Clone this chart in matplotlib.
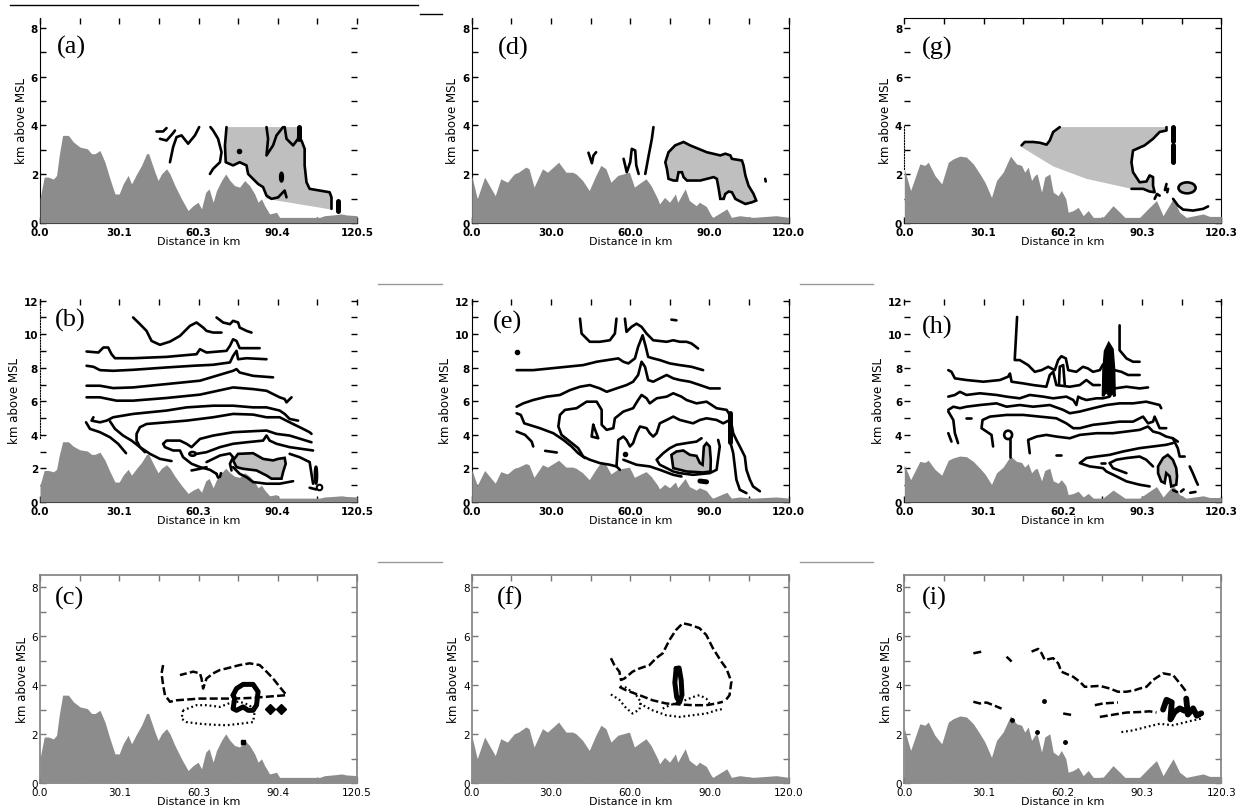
#!/usr/bin/env python3
"""Radar cross sections over terrain, panels (a)-(i)."""

import matplotlib

matplotlib.use("Agg")
import matplotlib.pyplot as plt
from matplotlib.lines import Line2D
from matplotlib.patches import Ellipse, Polygon
from matplotlib.transforms import ScaledTranslation

W, H = 1241, 812

# ---- terrain profiles (km along section, km MSL), one per column ----
terrain1_x = [0.0, 1.6, 3.2, 5.1, 6.3, 7.3, 8.6, 10.8, 12.7, 15.2, 18.0, 19.6, 20.9, 22.8, 24.7,
              26.6, 28.5, 30.1, 31.6, 33.5, 34.8, 36.7, 38.6, 40.5, 41.3, 42.4, 43.7, 44.9, 46.2,
              48.1, 49.4, 51.3, 53.8, 56.3, 58.2, 60.1, 61.4, 63.0, 64.3, 65.8, 67.1, 69.0, 70.6,
              72.2, 74.0, 75.9, 77.8, 79.7, 81.6, 82.9, 84.2, 85.4, 87.3, 89.9, 91.1, 106.3,
              108.2, 111.4, 114.6, 116.5, 120.5]
terrain1_z = [1.0, 1.88, 1.88, 1.8, 1.95, 2.77, 3.59, 3.59, 3.32, 3.11, 3.04, 2.84, 2.84, 2.97, 2.49,
              1.81, 1.19, 1.19, 1.6, 1.95, 1.6, 2.0, 2.36, 2.84, 2.84, 2.49, 2.08, 1.74, 2.01,
              2.22, 2.01, 1.53, 0.99, 0.51, 0.71, 0.85, 0.58, 1.26, 1.4, 0.85, 1.33, 1.74, 2.01,
              1.74, 1.53, 1.47, 1.74, 1.53, 1.19, 0.85, 0.99, 0.71, 0.37, 0.44, 0.23, 0.23,
              0.3, 0.33, 0.37, 0.33, 0.3]
terrain2_x = [0.0, 2.1, 4.9, 8.9, 11.0, 13.5, 16.1, 17.7, 20.5, 21.7, 23.6, 26.8, 28.7, 32.9, 35.7,
              38.2, 39.5, 42.0, 44.5, 47.0, 48.9, 50.8, 52.7, 55.3, 59.7, 61.6, 64.1, 66.0, 67.9,
              70.4, 71.1, 73.0, 74.9, 77.1, 78.0, 80.8, 82.4, 85.0, 86.2, 88.8, 90.7, 91.3, 96.6,
              98.3, 101.4, 106.5, 115.3, 120.0]
terrain2_z = [1.95, 0.99, 1.88, 1.12, 1.81, 1.67, 2.01, 2.08, 2.29, 2.22, 1.47, 2.22, 2.08, 2.49, 2.08,
              2.08, 2.01, 1.74, 1.33, 1.95, 2.36, 2.22, 1.67, 1.95, 2.08, 1.47, 1.67, 1.81, 1.53,
              0.99, 0.78, 1.05, 0.85, 1.19, 0.85, 1.4, 0.92, 0.71, 0.85, 0.68, 0.3, 0.23, 0.58,
              0.23, 0.3, 0.23, 0.3, 0.23]
terrain3_x = [0.0, 2.4, 5.9, 7.8, 9.1, 11.6, 14.2, 16.7, 18.6, 21.1, 23.6, 26.2, 28.7, 30.6, 33.1,
              35.0, 37.5, 40.3, 42.6, 44.5, 45.7, 47.0, 48.3, 49.5, 50.4, 52.1, 53.3, 55.2, 56.5,
              58.4, 59.6, 61.3, 62.2, 64.1, 66.0, 67.9, 69.8, 71.7, 75.4, 79.2, 81.8, 83.7, 89.3,
              92.5, 95.7, 98.2, 102.0, 104.5, 107.0, 113.4, 115.9, 120.3]
terrain3_z = [2.22, 1.33, 2.42, 2.36, 2.49, 1.95, 1.6, 2.49, 2.63, 2.74, 2.7, 2.42, 2.01, 1.67, 1.05,
              1.74, 2.08, 2.74, 2.42, 2.36, 2.08, 2.29, 1.74, 1.95, 2.01, 1.26, 1.88, 2.01, 1.26,
              1.12, 1.33, 0.99, 0.44, 0.51, 0.64, 0.3, 0.51, 0.23, 0.23, 0.71, 0.44, 0.23, 0.23,
              0.58, 0.92, 0.3, 0.99, 0.44, 0.23, 0.37, 0.27, 0.27]

col_xmax = [120.5, 120.0, 120.3]
col_xlabels = [
    ["0.0", "30.1", "60.3", "90.4", "120.5"],
    ["0.0", "30.0", "60.0", "90.0", "120.0"],
    ["0.0", "30.1", "60.2", "90.3", "120.3"],
]
row_ytop = [8, 12, 8]

# ---- (a) ----
a_lines = [
    [(44.3, 3.75), (46.8, 3.75), (48.1, 3.89)],
    [(45.6, 3.45), (48.1, 3.38), (50.4, 3.66), (51.3, 3.79)],
    [(49.4, 2.49), (50.6, 3.11), (51.9, 3.52), (53.8, 3.59), (56.3, 3.25), (58.9, 3.59), (60.5, 3.93)],
    [(64.6, 2.01), (65.8, 2.22), (68.4, 2.49), (69.0, 2.9), (67.7, 3.45), (65.8, 3.79), (64.8, 3.93)],
    [(70.9, 3.93), (70.3, 3.18), (70.6, 2.49), (73.4, 2.36), (75.9, 2.49), (78.5, 2.36), (79.1, 2.01),
     (81.6, 1.74), (82.9, 1.6), (84.8, 1.47), (86.1, 1.12), (88.0, 0.99), (90.5, 1.05), (93.0, 1.33),
     (93.7, 1.05)],
    [(86.1, 3.93), (86.7, 3.45), (86.1, 2.77), (88.6, 3.18), (89.9, 3.59), (92.4, 3.93)],
    [(93.0, 3.93), (93.7, 3.45), (96.2, 3.18), (98.1, 3.45), (98.5, 3.93)],
    [(98.5, 3.45), (99.4, 3.38), (100.6, 3.04), (100.6, 2.36), (101.3, 1.67), (102.5, 1.4),
     (106.3, 1.33), (110.1, 1.26), (110.8, 1.05), (110.8, 0.58)],
]
a_thick = [[(98.5, 3.93), (98.5, 3.45)], [(113.3, 0.92), (113.3, 0.51)]]
a_shade = [[(70.9, 3.93), (98.5, 3.93), (99.4, 3.38), (100.6, 3.04), (100.6, 2.36), (101.3, 1.67),
            (102.5, 1.4), (106.3, 1.33), (110.1, 1.26), (110.8, 1.05), (110.8, 0.55), (86.1, 0.99),
            (84.8, 1.47), (82.9, 1.6), (81.6, 1.74), (79.1, 2.01), (78.5, 2.36), (75.9, 2.49),
            (73.4, 2.36), (70.6, 2.49), (70.3, 3.18)]]
a_loops = [(91.8, 1.88, 1.0, 0.35, False)]
a_dots = [(75.7, 2.97)]

# ---- (d) ----
d_lines = [
    [(44.2, 2.88), (45.5, 2.45), (46.1, 2.77), (47.1, 2.9)],
    [(57.5, 2.63), (58.7, 2.08), (60.0, 2.49), (60.6, 3.04), (61.9, 2.97), (62.3, 2.36), (63.2, 2.01)],
    [(65.7, 2.01), (67.0, 2.77), (68.2, 3.45), (68.8, 3.93)],
    [(111.1, 1.81), (111.3, 1.7)],
]
d_cells = [[(73.3, 2.49), (74.5, 2.9), (77.0, 3.18), (80.2, 3.32), (82.7, 3.18), (89.0, 2.9),
            (94.1, 2.77), (96.0, 2.84), (97.9, 2.77), (98.5, 2.63), (102.3, 2.56), (102.9, 2.36),
            (103.6, 1.95), (104.8, 1.53), (106.7, 1.19), (107.7, 0.92), (106.1, 0.85), (103.6, 0.78),
            (101.0, 0.92), (99.8, 0.99), (98.5, 1.26), (97.3, 1.29), (96.0, 1.19), (95.4, 0.99),
            (94.1, 0.99), (93.5, 1.4), (92.8, 1.81), (91.6, 1.88), (86.5, 1.74), (81.5, 1.74),
            (80.2, 1.88), (79.6, 2.08), (78.3, 2.08), (77.7, 1.74), (76.4, 1.74), (74.5, 1.81),
            (73.9, 2.22)]]

# ---- (g) ----
g_lines = [
    [(44.5, 3.18), (45.7, 3.32), (48.9, 3.32), (51.4, 3.29), (54.0, 3.21), (55.2, 3.38), (56.5, 3.73),
     (59.0, 3.93)],
    [(99.5, 3.93), (99.5, 3.79), (96.9, 3.73), (94.4, 3.45), (91.2, 3.18), (86.8, 2.97), (86.2, 2.49),
     (86.8, 2.08), (89.3, 1.67), (91.9, 1.7), (93.1, 1.95), (94.4, 1.88), (94.4, 1.53), (95.0, 1.26),
     (93.1, 1.29), (90.6, 1.4), (86.2, 1.4)],
    [(99.5, 1.6), (98.9, 1.35), (100.1, 1.4), (99.8, 1.26)],
    [(95.0, 0.99), (95.9, 1.19), (96.9, 1.12)],
    [(102.0, 0.99), (103.9, 0.71), (105.8, 0.55), (109.6, 0.51), (113.4, 0.58), (115.3, 0.68)],
]
g_thick = [[(102.0, 3.93), (102.0, 3.38)], [(102.0, 3.18), (102.0, 2.49)]]
g_shade = [[(44.5, 3.18), (45.7, 3.32), (48.9, 3.32), (51.4, 3.29), (54.0, 3.21), (55.2, 3.38),
            (56.5, 3.73), (59.0, 3.93), (99.5, 3.93), (99.5, 3.79), (96.9, 3.73), (94.4, 3.45),
            (91.2, 3.18), (86.8, 2.97), (86.2, 2.49), (86.8, 2.08), (89.3, 1.67), (91.9, 1.7),
            (93.1, 1.95), (94.4, 1.88), (94.4, 1.53), (95.0, 1.26), (93.1, 1.29), (90.6, 1.4),
            (86.2, 1.4), (69.1, 1.81), (56.5, 2.32), (44.5, 3.11)]]
g_loops = [(107.3, 1.44, 6.5, 0.45, True)]

# ---- (b) ----
b_lines = [
    [(35.4, 11.0), (38.0, 10.6), (40.5, 10.2), (42.4, 9.6), (45.6, 9.37), (49.4, 9.56), (53.2, 9.9),
     (57.0, 10.5), (59.5, 10.7), (62.0, 10.4), (63.3, 10.2), (65.8, 10.1), (69.0, 10.1)],
    [(67.1, 11.0), (69.6, 10.7), (72.2, 10.6), (73.4, 10.8), (75.3, 10.7), (75.9, 10.4), (78.5, 10.2),
     (80.4, 10.1)],
    [(17.7, 8.97), (22.2, 8.91), (24.1, 9.21), (25.9, 9.21), (27.2, 8.81), (28.5, 8.57), (35.4, 8.57),
     (48.1, 8.65), (59.5, 8.81), (60.8, 9.11), (63.3, 8.91), (70.9, 9.01), (72.2, 9.31), (73.4, 9.7),
     (74.7, 9.6), (75.9, 9.17), (83.5, 9.17)],
    [(17.7, 8.12), (20.3, 8.06), (22.8, 7.86), (27.8, 7.82), (35.4, 7.88), (48.1, 8.02), (58.2, 8.12),
     (65.8, 8.18), (72.2, 8.32), (73.4, 8.71), (74.7, 9.01), (75.3, 8.51), (78.5, 8.57), (86.1, 8.51)],
    [(17.7, 6.93), (22.8, 6.93), (27.8, 6.79), (35.4, 6.83), (48.1, 7.03), (60.8, 7.23), (73.4, 7.82),
     (74.7, 7.92), (75.9, 7.72), (81.0, 7.52), (88.6, 7.43)],
    [(17.7, 6.24), (22.8, 6.24), (29.1, 6.04), (35.4, 6.04), (48.1, 6.2), (60.8, 6.4), (73.4, 6.83),
     (81.0, 6.73), (86.1, 6.63), (91.1, 6.24), (93.0, 6.14), (93.7, 5.94), (95.6, 6.24)],
    [(20.3, 5.05), (19.6, 4.85), (22.8, 4.75), (25.3, 4.85), (27.8, 5.05), (35.4, 5.25), (48.1, 5.45),
     (55.7, 5.64), (65.8, 5.74), (73.4, 5.74), (81.0, 5.64), (86.1, 5.64), (91.1, 5.45), (93.0, 5.25),
     (94.9, 4.95), (98.1, 4.85)],
    [(26.6, 4.81), (28.5, 4.36), (31.6, 3.96), (34.8, 3.66), (38.0, 3.27), (39.9, 2.97)],
    [(17.5, 4.75), (19.0, 4.36), (22.8, 4.16), (26.6, 3.86), (29.7, 3.47), (32.7, 2.91)],
    [(50.0, 2.44), (45.6, 2.57), (41.8, 2.87), (38.0, 3.27), (36.7, 3.66), (36.7, 4.06), (38.0, 4.46),
     (40.5, 4.65), (48.1, 4.75), (55.7, 4.85), (65.8, 5.05), (73.4, 5.25), (81.0, 5.21), (86.1, 5.05),
     (91.1, 5.05), (96.2, 4.65), (98.7, 4.46), (102.5, 4.16), (103.2, 4.06)],
    [(67.1, 1.68), (64.6, 1.92), (60.8, 2.08), (57.6, 2.28), (54.4, 2.67), (53.2, 3.07), (50.6, 3.07),
     (47.5, 3.27), (46.8, 3.47), (48.1, 3.66), (53.2, 3.66), (55.7, 3.47), (57.6, 3.27), (60.8, 3.76),
     (65.8, 3.96), (73.4, 4.16), (81.0, 4.22), (86.1, 4.26), (89.9, 4.06), (94.9, 3.96), (103.2, 3.56)],
    [(59.5, 2.87), (63.3, 2.97), (68.4, 3.27), (73.4, 3.47), (78.5, 3.56), (84.8, 3.66), (86.1, 3.96),
     (87.3, 3.66), (89.9, 3.47), (94.9, 3.27), (103.8, 3.07)],
    [(63.3, 2.38), (65.8, 2.57), (68.4, 2.77), (72.2, 2.89), (73.4, 2.67), (72.2, 2.28), (72.8, 1.88)],
    [(73.4, 2.08), (75.9, 1.68), (78.5, 1.48), (81.0, 1.19), (86.1, 1.09), (91.1, 1.09), (96.2, 1.24)],
    [(94.9, 2.87), (98.7, 2.67), (102.5, 2.38), (103.2, 1.68), (103.8, 1.09)],
    [(57.6, 1.88), (60.8, 1.98), (63.3, 2.08)],
    [(67.1, 1.68), (67.7, 1.45)],
    [(68.4, 1.5), (68.8, 1.72)],
    [(102.5, 0.85), (105.0, 0.75)],
]
b_cells = [[(73.4, 2.48), (75.3, 2.87), (81.0, 2.91), (84.8, 2.57), (88.6, 2.48), (90.5, 2.57),
            (93.0, 2.63), (93.4, 2.28), (92.4, 1.78), (91.8, 1.39), (88.0, 1.39), (86.1, 1.58),
            (82.3, 1.88), (77.2, 1.98), (74.7, 2.08)]]
b_loops = [(58.0, 2.87, 2.4, 0.22, False), (104.9, 1.6, 0.8, 1.0, False)]
b_dots = [(106.2, 0.9)]

# ---- (e) ----
e_lines = [
    [(41.0, 10.93), (41.6, 10.04), (44.7, 9.55), (48.5, 9.55), (52.3, 9.64), (54.2, 10.04), (54.8, 10.93)],
    [(58.0, 10.93), (58.6, 10.14), (60.5, 10.44), (62.4, 10.63), (64.3, 10.44), (66.2, 10.04),
     (68.7, 9.64), (73.8, 9.55), (76.3, 9.64), (78.8, 9.55), (81.3, 9.55), (83.2, 9.45), (85.7, 9.15)],
    [(75.6, 10.87), (77.5, 10.83)],
    [(17.0, 7.86), (23.3, 7.86), (29.6, 7.96), (35.9, 8.06), (42.2, 8.16), (47.3, 8.36), (55.5, 8.56),
     (57.4, 8.36), (59.3, 8.26), (61.8, 8.56), (63.0, 9.25), (64.7, 9.94), (65.9, 9.25), (66.8, 8.65),
     (68.7, 8.56), (71.2, 8.46), (75.0, 8.26), (78.8, 8.16), (83.2, 8.06), (87.6, 7.86)],
    [(17.0, 5.68), (19.5, 5.88), (23.3, 6.08), (28.4, 6.28), (33.4, 6.38), (37.2, 6.67), (41.0, 6.87),
     (44.7, 6.97), (48.5, 6.77), (51.1, 6.57), (54.8, 6.77), (58.6, 6.97), (61.1, 7.17), (63.0, 7.57),
     (64.3, 8.36), (65.6, 8.06), (66.8, 7.27), (68.7, 7.17), (71.2, 7.37), (73.8, 7.57), (76.3, 7.37),
     (78.8, 7.27), (82.6, 7.17), (86.4, 6.97), (90.1, 6.77), (93.9, 6.77)],
    [(17.0, 5.29), (18.6, 5.19), (19.9, 4.69), (25.8, 4.4), (30.9, 4.1), (34.7, 3.7), (37.8, 3.31),
     (40.3, 2.91), (42.9, 2.62)],
    [(17.0, 4.2), (20.2, 4.0), (22.7, 3.6), (23.3, 3.31)],
    [(27.8, 3.05), (32.2, 2.95)],
    [(56.1, 1.92), (54.8, 2.12), (52.3, 2.22), (48.5, 2.32), (44.7, 2.52), (42.2, 2.71), (40.3, 3.21),
     (37.2, 3.6), (34.0, 4.0), (32.8, 4.5), (33.4, 5.19), (35.3, 5.49), (39.7, 5.59), (43.5, 5.98),
     (47.3, 5.98), (49.2, 5.49), (49.2, 4.6), (51.1, 4.3), (53.6, 4.4), (54.2, 4.99), (57.4, 5.39),
     (61.1, 5.59), (63.0, 6.08), (64.3, 6.38), (66.2, 6.18), (67.4, 5.88), (70.0, 6.18), (73.8, 6.28),
     (76.3, 6.48), (79.4, 6.28), (81.3, 6.08), (85.1, 5.88), (88.9, 5.98), (92.7, 5.59), (96.5, 5.49),
     (97.7, 5.19)],
    [(46.0, 4.6), (45.4, 3.9), (47.9, 3.8), (46.0, 4.6)],
    [(54.8, 2.12), (55.5, 3.7), (57.4, 3.9), (58.6, 3.7), (59.9, 3.31), (61.1, 3.51), (62.4, 4.1),
     (63.7, 4.5), (66.2, 4.4), (67.4, 4.1), (68.7, 3.9), (70.0, 4.1), (71.2, 4.69), (73.8, 4.89),
     (76.3, 5.09), (78.8, 4.89), (81.3, 4.79), (83.8, 4.69), (86.4, 4.89), (88.9, 4.99), (92.7, 4.89),
     (95.2, 4.69), (97.7, 4.89)],
    [(87.0, 3.8), (85.1, 3.6), (81.3, 3.51), (77.5, 3.41), (75.0, 3.21), (72.5, 2.91), (70.0, 2.52),
     (71.2, 2.22), (73.8, 2.02), (76.3, 1.82), (78.8, 1.72), (83.8, 1.62), (90.1, 1.72), (92.7, 1.92),
     (93.9, 3.31), (93.3, 3.7)],
    [(57.4, 2.52), (62.4, 2.22), (67.4, 2.12), (71.2, 1.92), (76.3, 1.62), (79.4, 1.52)],
    [(97.7, 5.19), (99.0, 4.1), (100.2, 3.7), (101.5, 3.31), (103.4, 2.71), (104.0, 1.92), (105.3, 1.33),
     (106.5, 0.93), (109.1, 0.64)],
    [(97.7, 5.09), (97.7, 3.7), (99.0, 2.91), (99.6, 2.12), (100.2, 1.33), (101.5, 0.73), (104.0, 0.53)],
]
e_thick = [[(97.7, 5.29), (97.7, 3.6)], [(86.4, 1.25), (88.9, 1.2)]]
e_cells = [[(75.6, 2.81), (77.5, 3.01), (80.1, 3.07), (82.6, 2.81), (85.1, 2.75), (86.4, 2.32),
            (87.4, 2.22), (87.9, 3.31), (88.9, 3.51), (90.1, 3.31), (90.5, 2.52), (90.4, 1.82),
            (87.6, 1.76), (81.3, 1.82), (76.3, 2.02)]]
e_dots = [(17.0, 8.95), (58.0, 2.85)]

# ---- (h) ----
h_lines = [
    [(42.8, 11.03), (41.9, 8.46), (43.8, 8.46), (47.0, 8.16), (49.5, 7.76), (52.1, 7.86), (54.6, 8.06),
     (57.1, 7.86), (58.4, 8.46), (59.6, 8.69), (61.3, 8.56), (62.2, 7.86), (65.3, 7.76), (67.8, 8.06),
     (69.7, 7.96), (71.6, 7.76), (74.2, 7.86), (75.4, 8.2)],
    [(81.7, 10.53), (81.7, 9.05), (84.3, 8.56), (86.8, 8.36), (89.3, 8.36)],
    [(16.7, 7.86), (17.9, 7.76), (19.2, 7.37), (23.6, 7.27), (30.0, 7.17), (36.3, 7.27), (39.4, 7.47),
     (40.1, 7.66), (40.7, 7.17), (45.1, 7.07), (48.9, 6.97), (53.9, 6.87), (55.2, 7.57), (56.5, 7.76),
     (57.7, 6.97), (62.8, 6.87), (66.6, 6.97), (69.1, 7.27), (71.6, 6.97), (74.2, 6.97)],
    [(79.8, 7.86), (82.4, 7.76), (84.9, 7.57), (89.3, 7.57)],
    [(58.7, 6.97), (59.0, 8.06), (60.3, 8.16), (60.9, 6.97)],
    [(16.7, 6.28), (19.2, 6.38), (21.1, 6.57), (23.6, 6.38), (28.7, 6.48), (35.0, 6.38), (38.8, 6.28),
     (43.8, 6.18), (47.6, 6.38), (52.7, 6.28), (56.5, 6.18), (61.5, 6.28), (64.1, 6.08), (65.3, 5.78),
     (66.0, 6.28), (67.2, 6.18), (69.1, 6.08), (72.9, 6.18), (75.4, 6.18), (77.9, 6.28), (79.8, 6.77),
     (84.3, 6.87), (89.3, 6.77), (92.5, 6.83)],
    [(16.7, 5.49), (18.6, 5.68), (21.1, 5.59), (23.6, 5.68), (28.7, 5.78), (35.0, 5.88), (38.8, 5.68),
     (43.8, 5.78), (48.9, 5.68), (55.2, 5.78), (60.3, 5.49), (62.8, 5.29), (66.6, 5.39), (71.6, 5.59),
     (76.7, 5.78), (81.7, 5.88), (86.8, 5.88), (91.8, 5.98), (96.9, 5.78), (97.5, 5.59)],
    [(16.7, 5.39), (18.6, 4.89), (19.2, 4.1), (20.4, 3.51)],
    [(16.7, 4.1), (17.9, 3.6)],
    [(23.6, 4.99), (25.5, 4.99)],
    [(33.7, 3.31), (33.1, 4.0), (31.2, 4.2), (29.3, 4.4), (29.7, 4.89), (32.5, 5.09), (38.8, 5.19),
     (45.1, 5.19), (51.4, 5.09), (57.7, 4.99), (61.5, 4.69), (64.1, 4.4), (66.6, 4.4), (71.6, 4.6),
     (76.7, 4.69), (81.7, 4.79), (86.8, 4.79), (90.6, 5.09), (92.5, 4.69), (94.4, 4.79), (95.0, 5.09),
     (96.9, 4.4), (99.4, 4.4)],
    [(40.1, 3.75), (40.1, 2.7)],
    [(47.6, 2.91), (47.0, 3.7), (50.2, 3.9), (53.9, 4.0), (57.7, 3.9), (62.8, 3.8), (66.6, 4.0),
     (72.9, 4.1), (79.2, 4.1), (84.3, 4.2), (89.3, 4.3), (92.5, 4.5), (94.4, 4.2), (96.9, 4.1),
     (99.4, 3.9), (101.9, 3.8), (103.8, 3.6)],
    [(57.7, 2.81), (59.6, 2.81)],
    [(101.9, 3.51), (99.4, 3.41), (94.4, 3.31), (89.3, 3.21), (83.0, 3.01), (77.9, 2.81), (72.9, 2.71),
     (69.1, 2.62), (66.6, 2.32), (70.4, 2.12), (75.4, 2.02), (76.7, 1.82), (80.5, 1.53), (84.3, 1.23),
     (89.3, 1.03), (93.1, 0.93)],
    [(74.8, 2.35), (76.0, 2.35)],
    [(94.4, 2.12), (91.8, 2.52), (89.3, 2.71), (84.3, 2.62), (80.5, 2.52), (77.9, 2.32), (79.2, 2.02),
     (84.3, 1.72)],
    [(101.9, 3.8), (103.8, 3.2), (104.5, 2.71), (106.4, 2.71)],
    [(108.3, 2.12), (109.5, 1.72), (110.8, 1.23), (111.4, 1.03)],
    [(102.0, 0.7), (103.5, 0.6)],
    [(105.0, 0.62), (106.0, 0.75)],
    [(108.5, 0.55), (110.5, 0.6)],
]
h_cells = [[(96.3, 2.12), (98.2, 2.62), (100.0, 2.81), (101.9, 2.52), (103.2, 2.02), (103.5, 1.53),
            (103.2, 1.03), (101.3, 0.93), (100.7, 1.53), (99.4, 1.72), (98.8, 1.13), (97.5, 1.23),
            (96.3, 1.72)]]
h_core = [[(75.4, 6.3), (75.6, 7.9), (76.2, 9.0), (77.6, 9.45), (79.0, 9.1), (79.6, 7.9), (79.8, 6.3),
           (78.8, 6.6), (77.6, 6.4), (76.5, 6.6)]]
h_loops = [(39.4, 4.0, 3.0, 0.5, False)]

# ---- (c) ----
c_dashed = [
    [(46.8, 4.82), (46.2, 4.48), (46.8, 4.0), (47.5, 3.59), (49.4, 3.32), (51.9, 3.38), (60.8, 3.45),
     (67.1, 3.45), (73.4, 3.45), (81.0, 3.48), (93.7, 3.59), (91.1, 3.93), (88.6, 4.27), (86.1, 4.55),
     (83.5, 4.82), (79.7, 4.89), (75.9, 4.82), (73.4, 4.75), (70.9, 4.68), (68.4, 4.62), (65.8, 4.48),
     (63.3, 4.27), (62.0, 3.86), (61.4, 4.27), (60.8, 4.48), (58.2, 4.55), (55.7, 4.48), (53.2, 4.41)],
]
c_dotted = [[(54.4, 2.97), (53.8, 2.63), (55.7, 2.49), (60.8, 2.42), (65.8, 2.38), (70.9, 2.36),
             (75.9, 2.42), (81.0, 2.49), (81.6, 2.9), (79.7, 3.18), (75.9, 3.32), (73.4, 3.32),
             (68.4, 3.11), (63.3, 3.18), (59.5, 3.18), (54.4, 2.97)]]
c_thick = [[(73.4, 3.59), (74.7, 3.86), (77.2, 4.03), (81.0, 4.03), (82.9, 3.73), (82.3, 3.18),
            (81.0, 2.97), (79.1, 2.97), (77.2, 3.11), (74.7, 2.97), (73.4, 3.04), (74.0, 3.45),
            (73.4, 3.59)]]
c_drops = [(87.3, 3.04), (91.5, 3.04)]
c_dots = [(77.0, 1.67)]

# ---- (f) ----
f_dashed = [
    [(52.7, 5.1), (54.0, 4.82), (55.9, 4.55), (56.5, 4.21), (57.8, 4.27), (60.9, 4.55), (63.5, 4.68),
     (67.3, 4.82), (69.8, 5.1), (72.3, 5.3), (74.9, 5.85), (77.4, 6.26), (79.9, 6.53), (82.4, 6.47),
     (86.2, 6.33), (88.8, 6.05), (91.3, 5.51), (94.5, 4.96), (96.4, 4.68), (98.3, 4.14), (97.6, 3.59),
     (95.7, 3.32)],
    [(55.9, 3.93), (58.4, 3.79), (63.5, 3.59), (68.5, 3.38), (73.6, 3.25), (78.7, 3.21), (83.7, 3.18),
     (88.8, 3.18), (92.6, 3.25), (95.1, 3.32)],
]
f_dotted = [
    [(52.7, 3.62), (55.9, 3.4), (58.4, 3.07), (60.9, 2.84), (63.5, 3.0), (64.1, 3.3), (62.2, 3.6),
     (58.4, 3.9), (55.9, 3.95)],
    [(63.5, 3.25), (68.5, 2.97), (73.6, 2.77), (78.7, 2.7), (83.7, 2.77), (88.8, 2.84), (92.6, 2.97),
     (95.7, 3.04)],
    [(72.3, 3.04), (75.0, 3.18), (80.0, 3.35), (84.0, 3.52), (86.2, 3.59), (88.8, 3.45), (90.0, 3.25)],
]
f_thick = [[(77.4, 4.68), (78.5, 4.7), (79.3, 4.2), (79.6, 3.6), (78.7, 3.3), (77.6, 3.5), (76.9, 4.1),
            (77.4, 4.68)]]

# ---- (i) ----
i_dashed = [
    [(26.2, 5.3), (29.9, 5.38)],
    [(38.8, 5.16), (40.1, 5.03), (40.7, 4.96)],
    [(48.3, 5.37), (50.8, 5.48), (52.1, 5.3), (53.3, 5.03), (56.5, 5.1), (58.4, 4.89), (59.6, 4.55),
     (64.1, 4.34), (66.6, 4.14), (68.5, 3.93), (74.2, 3.97), (78.0, 3.86), (81.1, 3.73), (84.3, 3.73),
     (87.4, 3.79), (89.3, 3.86), (91.9, 3.93), (94.4, 4.21), (98.2, 4.48), (102.0, 4.41), (105.1, 4.0),
     (107.0, 3.73)],
    [(26.2, 3.32), (28.7, 3.25), (31.2, 3.29), (33.8, 3.18), (36.9, 3.04)],
    [(60.3, 2.84), (64.1, 2.77)],
    [(72.3, 3.18), (75.4, 3.25), (81.1, 3.29)],
    [(74.2, 2.7), (79.2, 2.79), (84.3, 2.88), (89.3, 2.9), (93.1, 2.93), (95.7, 2.88)],
]
i_dotted = [[(82.4, 2.08), (86.8, 2.15), (91.9, 2.29), (96.9, 2.42), (102.0, 2.36), (107.0, 2.49),
             (109.6, 2.56), (112.7, 2.63)]]
i_thick = [
    [(98.2, 3.0), (99.5, 3.4), (101.5, 3.3), (101.0, 2.6), (102.6, 2.9), (104.5, 3.05), (106.4, 2.95)],
    [(107.0, 3.45), (107.6, 2.8), (109.6, 3.05), (111.0, 2.75), (112.7, 2.85)],
]
i_dots = [(40.7, 2.56), (53.0, 3.34), (50.2, 2.08), (60.9, 1.67)]

# ---- layout (pixels of the 1241x812 canvas) ----
COL_LEFT = [40, 471.7, 904.3]
COL_W = 317
ROW_PX = [(19, 224), (300, 503), (576, 784)]
ROW_YLIM = [8.4, 12.1, 8.5]
TERRAIN = "#8c8c8c"
SHADE = "#bfbfbf"
LW = 1.9

# left, right, top spine look per panel
SPINES = {
    "a": ("k", None, None), "d": ("k", "k", None), "g": (":", "k", "k"),
    "b": (":", None, None), "e": ("k", "k", None), "h": (None, "k", None),
    "c": ("g", "g", "g"), "f": ("g", "g", "g"), "i": ("g", "g", "g"),
}
DOT_SPAN = {"g": (2.2, 4.0), "b": (3.8, 12.1)}
LABEL_POS = {
    "a": (0.054, 0.86), "b": (0.047, 0.9), "c": (0.047, 0.894),
    "d": (0.083, 0.854), "e": (0.068, 0.887), "f": (0.08, 0.894),
    "g": (0.057, 0.854), "h": (0.057, 0.867), "i": (0.057, 0.894),
}


def plot_lines(ax, lines, **kw):
    for line in lines:
        xs, zs = zip(*line)
        ax.plot(xs, zs, solid_capstyle="round", solid_joinstyle="round", zorder=5, **kw)


def add_cells(ax, polys, fc, ec):
    for poly in polys:
        ax.add_patch(Polygon(poly, closed=True, fc=fc, ec=ec, lw=LW if ec != "none" else 0, zorder=4))


def add_loops(ax, loops):
    for cx, cz, w, h, filled in loops:
        ax.add_patch(Ellipse((cx, cz), w, h, fc=SHADE if filled else "none", ec="k", lw=LW, zorder=5))


def style_axes(fig, ax, key, row, col):
    xmax = col_xmax[col]
    ax.set_xlim(0, xmax)
    ax.set_ylim(0, ROW_YLIM[row])
    ax.set_xticks([xmax * i / 8 for i in range(9)])
    weight = "normal" if row == 2 else "bold"
    ax.set_xticklabels([col_xlabels[col][i // 2] if i % 2 == 0 else "" for i in range(9)],
                       fontsize=7.5, fontweight=weight)
    ytop = row_ytop[row]
    ax.set_yticks(range(ytop + 1))
    ax.set_yticklabels([str(v) if v % 2 == 0 else "" for v in range(ytop + 1)],
                       fontsize=7.5, fontweight=weight)
    # the zero height label sits a little above the corner, clear of "0.0"
    zero = ax.get_yticklabels()[0]
    zero.set_transform(zero.get_transform() + ScaledTranslation(0, 5 / 72, fig.dpi_scale_trans))
    tick_col = "#777777" if row == 2 else "k"
    ax.tick_params(direction="in", length=4.5, width=1, top=True, right=True, pad=1.5,
                   color=tick_col)
    ax.tick_params(axis="x", pad=3)
    ax.set_xlabel("Distance in km", fontsize=8, labelpad=-1)
    ax.set_ylabel("km above MSL", fontsize=8.5, labelpad=2)
    for side, look in zip(("left", "right", "top"), SPINES[key]):
        sp = ax.spines[side]
        if look is None:
            sp.set_visible(False)
        elif look == ":":
            sp.set_linestyle((0, (1, 1.5)))
            sp.set_bounds(*DOT_SPAN[key])
        elif look == "g":
            sp.set_color("#7f7f7f")
            sp.set_linewidth(1.2)
    if row == 2:
        ax.spines["bottom"].set_color("#7f7f7f")
        ax.spines["bottom"].set_linewidth(1.2)
    ax.text(*LABEL_POS[key], f"({key})", transform=ax.transAxes, fontsize=19,
            family="Liberation Serif", ha="left", va="center", zorder=6)


def main() -> None:
    plt.rcParams["font.family"] = ["DejaVu Sans"]
    fig = plt.figure(figsize=(W / 100, H / 100), dpi=100)
    terrains = [(terrain1_x, terrain1_z), (terrain2_x, terrain2_z), (terrain3_x, terrain3_z)]
    keys = [["a", "d", "g"], ["b", "e", "h"], ["c", "f", "i"]]
    axes = {}
    for row in range(3):
        top, bottom = ROW_PX[row]
        for col in range(3):
            rect = [COL_LEFT[col] / W, 1 - bottom / H, COL_W / W, (bottom - top) / H]
            ax = fig.add_axes(rect)
            ax.set_facecolor("white")
            tx, tz = terrains[col]
            ax.fill_between(tx, 0, tz, color=TERRAIN, lw=0, zorder=3)
            key = keys[row][col]
            style_axes(fig, ax, key, row, col)
            axes[key] = ax

    solid = dict(color="k", lw=LW)
    thick = dict(color="k", lw=3.6)
    dashed = dict(color="k", lw=1.8, ls=(0, (3.2, 1.3)))
    dotted = dict(color="k", lw=1.6, ls=(0, (0.8, 1.3)))

    # (a)
    ax = axes["a"]
    add_cells(ax, a_shade, SHADE, "none")
    plot_lines(ax, a_lines, **solid)
    plot_lines(ax, a_thick, **thick)
    add_loops(ax, a_loops)
    ax.plot(*zip(*a_dots), "o", color="k", ms=3, zorder=5)

    # (d)
    ax = axes["d"]
    add_cells(ax, d_cells, SHADE, "k")
    plot_lines(ax, d_lines, **solid)

    # (g)
    ax = axes["g"]
    add_cells(ax, g_shade, SHADE, "none")
    plot_lines(ax, g_lines, **solid)
    plot_lines(ax, g_thick, **thick)
    add_loops(ax, g_loops)

    # (b)
    ax = axes["b"]
    add_cells(ax, b_cells, SHADE, "k")
    plot_lines(ax, b_lines, **solid)
    add_loops(ax, b_loops)
    ax.plot(*zip(*b_dots), "o", color="k", ms=4, mfc="white", mew=1.5, zorder=5)

    # (e)
    ax = axes["e"]
    add_cells(ax, e_cells, SHADE, "k")
    plot_lines(ax, e_lines, **solid)
    plot_lines(ax, e_thick, **thick)
    ax.plot(*zip(*e_dots), "o", color="k", ms=3, zorder=5)

    # (h)
    ax = axes["h"]
    add_cells(ax, h_cells, SHADE, "k")
    add_cells(ax, h_core, "k", "k")
    plot_lines(ax, h_lines, **solid)
    add_loops(ax, h_loops)

    # (c)
    ax = axes["c"]
    plot_lines(ax, c_dashed, **dashed)
    plot_lines(ax, c_dotted, **dotted)
    plot_lines(ax, c_thick, **thick)
    ax.plot(*zip(*c_drops), "D", color="k", ms=5.5, zorder=5)
    ax.plot(*zip(*c_dots), "s", color="k", ms=3.5, zorder=5)

    # (f)
    ax = axes["f"]
    plot_lines(ax, f_dashed, **dashed)
    plot_lines(ax, f_dotted, **dotted)
    plot_lines(ax, f_thick, **thick)

    # (i)
    ax = axes["i"]
    plot_lines(ax, i_dashed, **dashed)
    plot_lines(ax, i_dotted, **dotted)
    plot_lines(ax, i_thick, color="k", lw=4.2)
    ax.plot(*zip(*i_dots), "o", color="k", ms=2.5, zorder=5)

    # stray separator rules from the source page
    def rule(x0, x1, y, color):
        fig.add_artist(Line2D([x0 / W, x1 / W], [1 - y / H] * 2, color=color, lw=1))

    rule(10, 418, 6, "k")
    rule(420, 442, 15, "k")
    for y in (285, 563):
        rule(378, 442, y, "#999999")
        rule(800, 873, y, "#999999")

    fig.savefig("out.png", dpi=100, facecolor="white")
    plt.close(fig)


if __name__ == "__main__":
    main()
